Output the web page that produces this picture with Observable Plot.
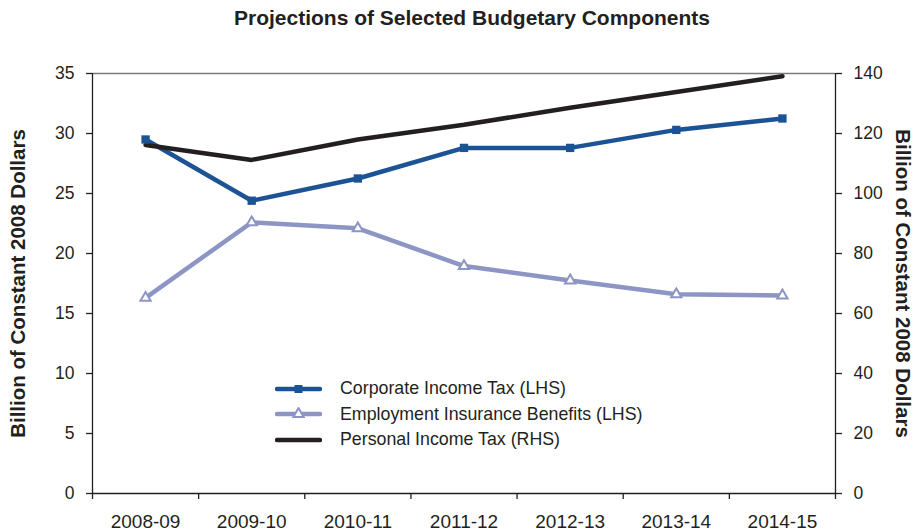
<!DOCTYPE html>
<html>
<head>
<meta charset="utf-8">
<script src="https://cdn.jsdelivr.net/npm/d3@7"></script>
<script src="https://cdn.jsdelivr.net/npm/@observablehq/plot@0.6"></script>
<style>
  body { margin: 0; background: #fff; font-family: "Liberation Sans", Arial, Helvetica, sans-serif; color: #231f20; }
  #chart { position: relative; width: 917px; height: 531px; overflow: hidden; }
  #title { width: 917px; height: 40px; box-sizing: border-box; padding-left: 27px; padding-top: 6px;
           text-align: center; font-weight: bold; font-size: 21px; line-height: 24px; }
  #legend { position: absolute; left: 275px; top: 376px; font-size: 17.8px; }
  .row { display: flex; align-items: center; height: 25.5px; white-space: nowrap; }
  .row svg { margin-right: 18px; flex: none; }
</style>
</head>
<body>
<div id="chart">
  <div id="title">Projections of Selected Budgetary Components</div>
  <div id="legend"></div>
</div>
<script>
// Fiscal years shown along the bottom
const periods = ["2008-09", "2009-10", "2010-11", "2011-12", "2012-13", "2013-14", "2014-15"];

// Left-hand scale series (billions of constant 2008 dollars)
const corporateTax = [29.5, 24.4, 26.25, 28.8, 28.8, 30.3, 31.25];
const eiBenefits = [16.3, 22.6, 22.1, 18.95, 17.75, 16.6, 16.5];

// Right-hand scale series (billions of constant 2008 dollars)
const personalTax = [116.2, 111.2, 118.0, 122.9, 128.6, 133.8, 139.1];

// Axis ticks
const leftTicks = [0, 5, 10, 15, 20, 25, 30, 35];
const rightTicks = [0, 20, 40, 60, 80, 100, 120, 140];
const rhsRatio = 140 / 35; // right axis spans four times the left axis

const axisTitle = "Billion of Constant 2008 Dollars";

const seriesNames = [
  "Corporate Income Tax (LHS)",
  "Employment Insurance Benefits (LHS)",
  "Personal Income Tax (RHS)"
];

const ink = "#231f20";
const blue = "#1c5394";
const lavender = "#8c95c4";
const fontFamily = '"Liberation Sans", Arial, Helvetica, sans-serif';

// Each year sits in the middle of its slot on a 0..7 linear axis
const rows = periods.map((period, i) => ({
  period,
  slot: i + 0.5,
  corp: corporateTax[i],
  ei: eiBenefits[i],
  pit: personalTax[i]
}));

const chart = Plot.plot({
  width: 917,
  height: 491,
  marginLeft: 92,
  marginRight: 82,
  marginTop: 33,
  marginBottom: 38,
  style: { fontFamily, color: ink, background: "white", overflow: "visible" },
  x: { domain: [0, periods.length] },
  y: { domain: [0, 35] },
  marks: [
    // frame
    Plot.ruleY([35], { stroke: "#7a7a7a", strokeWidth: 1.3 }),
    Plot.ruleY([0], { stroke: ink, strokeWidth: 1.3 }),
    Plot.ruleX([0], { stroke: ink, strokeWidth: 1.3 }),
    Plot.ruleX([periods.length], { stroke: ink, strokeWidth: 1.3 }),

    // left axis
    Plot.axisY({ anchor: "left", ticks: leftTicks, tickSize: 6, tickPadding: 12,
                 fontSize: 17.5, label: null, strokeWidth: 1.3 }),
    // right axis, rescaled
    Plot.axisY({ anchor: "right", ticks: rightTicks.map(v => v / rhsRatio), tickSize: 6, tickPadding: 12,
                 tickFormat: v => Math.round(v * rhsRatio), fontSize: 17.5, label: null, strokeWidth: 1.3 }),

    // slot boundary ticks and year labels
    Plot.axisX({ ticks: d3.range(periods.length + 1), tickSize: 6, tickFormat: () => "",
                 label: null, strokeWidth: 1.3 }),
    Plot.axisX({ ticks: rows.map(d => d.slot), tickSize: 0, tickPadding: 21,
                 tickFormat: v => periods[Math.floor(v)], fontSize: 19, label: null }),

    // axis titles
    Plot.text([axisTitle], { text: d => d, frameAnchor: "left", textAnchor: "middle", rotate: -90, dx: -74,
                             fontSize: 20.5, fontWeight: "bold" }),
    Plot.text([axisTitle], { text: d => d, frameAnchor: "right", textAnchor: "middle", rotate: 90, dx: 67,
                             fontSize: 20.5, fontWeight: "bold" }),

    // series
    Plot.line(rows, { x: "slot", y: "ei", stroke: lavender, strokeWidth: 4.5 }),
    Plot.line(rows, { x: "slot", y: "corp", stroke: blue, strokeWidth: 4.5 }),
    Plot.line(rows, { x: "slot", y: d => d.pit / rhsRatio, stroke: ink, strokeWidth: 4.5 }),
    Plot.dot(rows, { x: "slot", y: "ei", symbol: "triangle", r: 3.8, fill: "white",
                     stroke: lavender, strokeWidth: 2 }),
    Plot.dot(rows, { x: "slot", y: "corp", symbol: "square", r: 4.7, fill: blue })
  ]
});

document.getElementById("chart").insertBefore(chart, document.getElementById("legend"));

// legend
const legendStyles = [
  { stroke: blue, marker: "square" },
  { stroke: lavender, marker: "triangle" },
  { stroke: ink, marker: null }
];
const legend = d3.select("#legend");
seriesNames.forEach((name, i) => {
  const s = legendStyles[i];
  const row = legend.append("div").attr("class", "row");
  const svg = row.append("svg").attr("width", 47).attr("height", 14);
  svg.append("line").attr("x1", 2).attr("x2", 45).attr("y1", 7).attr("y2", 7)
    .attr("stroke", s.stroke).attr("stroke-width", 4.5).attr("stroke-linecap", "round");
  if (s.marker === "square") {
    svg.append("rect").attr("x", 19.5).attr("y", 3).attr("width", 8).attr("height", 8).attr("fill", s.stroke);
  } else if (s.marker === "triangle") {
    svg.append("path").attr("d", d3.symbol(d3.symbolTriangle, 45)()).attr("transform", "translate(23.5,7)")
      .attr("fill", "white").attr("stroke", s.stroke).attr("stroke-width", 2);
  }
  row.append("span").text(name);
});
</script>
</body>
</html>
